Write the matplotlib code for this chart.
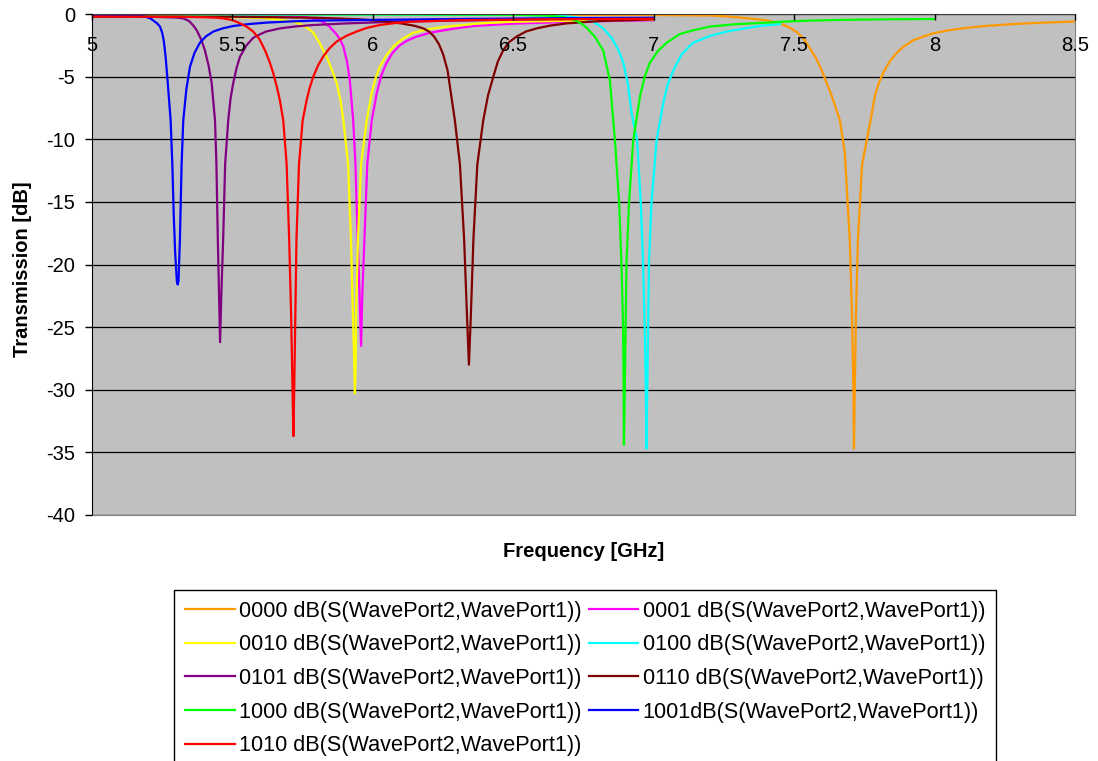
import matplotlib.pyplot as plt
import matplotlib as mpl

mpl.rcParams['font.family'] = ['Liberation Sans', 'DejaVu Sans']
mpl.rcParams['axes.unicode_minus'] = False

# Transmission curves for each switch state, frequency in GHz, level in dB
f_0000 = [5.0, 5.5, 6.0, 6.5, 7.0, 7.2, 7.26, 7.34, 7.40, 7.43, 7.46, 7.485, 7.51, 7.535, 7.555, 7.58, 7.60,
          7.635, 7.663, 7.68, 7.698, 7.706, 7.711, 7.713, 7.716, 7.72, 7.727, 7.742, 7.772, 7.787, 7.80,
          7.817, 7.84, 7.865, 7.89, 7.924, 7.96, 7.995, 8.05, 8.102, 8.18, 8.28, 8.38, 8.5]
db_0000 = [-0.05, -0.05, -0.05, -0.06, -0.08, -0.12, -0.19, -0.35, -0.5, -0.65, -0.85, -1.1, -1.45, -2.0, -2.7, -3.6, -4.6,
           -6.6, -8.5, -11.0, -18.0, -24.0, -30.0, -34.7, -30.0, -24.0, -18.0, -12.0, -8.5, -6.6, -5.6,
           -4.7, -3.8, -3.1, -2.6, -2.1, -1.8, -1.54, -1.3, -1.14, -0.96, -0.8, -0.7, -0.6]

f_0001 = [5.0, 5.5, 5.7, 5.76, 5.79, 5.82, 5.845, 5.87, 5.885, 5.895, 5.908, 5.918, 5.93, 5.938, 5.946,
          5.952, 5.958, 5.963, 5.97, 5.98, 5.996, 6.014, 6.03, 6.049, 6.07, 6.096, 6.12, 6.15, 6.203, 6.28,
          6.357, 6.5, 6.75, 7.0]
db_0001 = [-0.1, -0.12, -0.18, -0.25, -0.38, -0.6, -1.0, -1.6, -2.1, -2.6, -3.8, -5.3, -8.5, -12.0, -18.0,
           -22.0, -26.5, -22.0, -18.0, -12.0, -8.5, -6.3, -4.9, -3.9, -3.1, -2.5, -2.15, -1.85, -1.5, -1.2,
           -0.96, -0.77, -0.6, -0.5]

f_0010 = [5.0, 5.4, 5.6, 5.669, 5.717, 5.74, 5.76, 5.775, 5.788, 5.81, 5.835, 5.855, 5.871, 5.885, 5.895,
          5.912, 5.922, 5.929, 5.934, 5.936, 5.939, 5.94, 5.947, 5.958, 5.978, 5.996, 6.01, 6.025, 6.048,
          6.073, 6.105, 6.144, 6.2, 6.263, 6.381, 6.5, 6.75, 7.0]
db_0010 = [-0.15, -0.2, -0.3, -0.45, -0.62, -0.78, -1.0, -1.25, -1.5, -2.3, -3.4, -4.5, -5.5, -6.9, -8.5,
           -12.0, -18.0, -24.0, -28.0, -30.3, -28.0, -24.0, -18.0, -12.0, -8.5, -6.3, -5.1, -4.2, -3.3,
           -2.6, -2.0, -1.5, -1.2, -1.0, -0.75, -0.62, -0.52, -0.45]

f_0100 = [5.0, 5.5, 6.0, 6.5, 6.65, 6.72, 6.76, 6.785, 6.82, 6.85, 6.875, 6.892, 6.908, 6.921, 6.941,
          6.954, 6.962, 6.968, 6.972, 6.974, 6.977, 6.98, 6.983, 6.992, 7.01, 7.034, 7.05, 7.07, 7.10,
          7.14, 7.2, 7.26, 7.319, 7.38, 7.45]
db_0100 = [-0.04, -0.04, -0.05, -0.07, -0.12, -0.25, -0.4, -0.6, -1.15, -1.9, -2.9, -3.9, -5.6, -7.9, -10.1,
           -15.1, -19.9, -25.0, -30.0, -34.7, -30.0, -25.0, -19.9, -15.1, -10.1, -7.1, -5.6, -4.5, -3.2,
           -2.3, -1.75, -1.4, -1.17, -0.95, -0.8]

f_0101 = [5.0, 5.2, 5.3, 5.325, 5.345, 5.36, 5.373, 5.388, 5.402, 5.415, 5.426, 5.438, 5.443, 5.448,
          5.452, 5.456, 5.461, 5.467, 5.474, 5.485, 5.493, 5.503, 5.515, 5.527, 5.55, 5.574, 5.6, 5.62,
          5.669, 5.73, 5.787, 5.907, 6.1, 6.5, 7.0]
db_0101 = [-0.2, -0.22, -0.28, -0.35, -0.55, -0.9, -1.3, -2.0, -2.9, -4.1, -5.5, -8.5, -12.0, -18.0,
           -22.0, -26.2, -22.0, -18.0, -12.0, -8.5, -6.8, -5.5, -4.3, -3.4, -2.5, -1.9, -1.6, -1.4,
           -1.15, -0.98, -0.88, -0.75, -0.6, -0.45, -0.35]

f_0110 = [5.0, 5.5, 5.8, 5.95, 6.03, 6.1, 6.15, 6.18, 6.2, 6.218, 6.235, 6.25, 6.266, 6.279, 6.292, 6.31,
          6.325, 6.335, 6.342, 6.349, 6.358, 6.372, 6.393, 6.41, 6.429, 6.445, 6.464, 6.485, 6.512, 6.545,
          6.583, 6.63, 6.69, 6.809, 7.0]
db_0110 = [-0.18, -0.22, -0.3, -0.42, -0.55, -0.75, -0.95, -1.15, -1.4, -1.8, -2.4, -3.2, -4.5, -6.5, -8.5,
           -12.0, -18.0, -24.0, -28.0, -24.0, -18.0, -12.0, -8.5, -6.5, -5.0, -3.8, -2.9, -2.25, -1.8, -1.4,
           -1.15, -0.93, -0.75, -0.56, -0.43]

f_1000 = [5.0, 5.5, 6.0, 6.5, 6.62, 6.68, 6.705, 6.725, 6.745, 6.761, 6.79, 6.82, 6.844, 6.862, 6.877,
          6.885, 6.891, 6.893, 6.894, 6.897, 6.9, 6.903, 6.912, 6.927, 6.951, 6.968, 6.986, 7.015, 7.046,
          7.093, 7.141, 7.2, 7.29, 7.378, 7.47, 7.556, 7.65, 7.734, 7.85, 8.0]
db_1000 = [-0.02, -0.02, -0.03, -0.06, -0.12, -0.25, -0.38, -0.55, -0.8, -1.1, -1.8, -2.9, -5.3, -10.1, -15.1,
           -19.9, -25.0, -30.0, -34.4, -30.0, -25.0, -19.9, -15.1, -10.1, -6.6, -5.0, -3.9, -2.95, -2.3,
           -1.6, -1.3, -1.0, -0.82, -0.72, -0.6, -0.53, -0.48, -0.45, -0.42, -0.4]

f_1001 = [5.0, 5.1, 5.16, 5.18, 5.195, 5.21, 5.22, 5.232, 5.242, 5.25, 5.256, 5.262, 5.268, 5.28, 5.286,
          5.291, 5.296, 5.302, 5.305, 5.308, 5.313, 5.319, 5.325, 5.336, 5.349, 5.365, 5.384, 5.405,
          5.432, 5.465, 5.502, 5.56, 5.62, 5.7, 5.79, 5.965, 6.3, 6.7, 7.0]
db_1001 = [-0.08, -0.1, -0.14, -0.18, -0.25, -0.38, -0.55, -0.75, -1.0, -1.5, -2.2, -3.4, -5.0, -8.5, -12.0,
           -16.0, -19.0, -21.3, -21.6, -21.3, -18.0, -12.0, -8.5, -6.0, -4.2, -3.1, -2.3, -1.8,
           -1.4, -1.15, -0.96, -0.8, -0.69, -0.6, -0.53, -0.48, -0.4, -0.33, -0.3]

f_1010 = [5.0, 5.3, 5.4, 5.445, 5.467, 5.485, 5.5, 5.515, 5.527, 5.55, 5.574, 5.596, 5.616, 5.632, 5.645,
          5.658, 5.669, 5.681, 5.693, 5.702, 5.709, 5.714, 5.717, 5.72, 5.724, 5.728, 5.737, 5.75, 5.764,
          5.775, 5.788, 5.805, 5.823, 5.845, 5.871, 5.905, 5.942, 5.98, 6.025, 6.08, 6.143, 6.3, 6.6, 7.0]
db_1010 = [-0.2, -0.22, -0.26, -0.3, -0.35, -0.42, -0.5, -0.62, -0.75, -1.0, -1.4, -2.0, -2.9, -3.8, -4.7,
           -5.8, -6.9, -8.5, -12.0, -18.0, -24.0, -30.0, -33.7, -30.0, -24.0, -18.0, -12.0, -8.5, -6.9,
           -5.9, -5.0, -4.1, -3.4, -2.75, -2.2, -1.75, -1.4, -1.1, -0.88, -0.72, -0.61, -0.5, -0.42, -0.38]

states = ['0000', '0001', '0010', '0100', '0101', '0110', '1000', '1001', '1010']
freqs = [f_0000, f_0001, f_0010, f_0100, f_0101, f_0110, f_1000, f_1001, f_1010]
levels = [db_0000, db_0001, db_0010, db_0100, db_0101, db_0110, db_1000, db_1001, db_1010]
colors = ['#FF9900', '#FF00FF', '#FFFF00', '#00FFFF', '#800080', '#800000', '#00FF00', '#0000FF', '#FF0000']
labels = [s + ' dB(S(WavePort2,WavePort1))' for s in states]
labels[7] = '1001dB(S(WavePort2,WavePort1))'

yticks = [0, -5, -10, -15, -20, -25, -30, -35, -40]
xticks = [5, 5.5, 6, 6.5, 7, 7.5, 8, 8.5]

fig = plt.figure(figsize=(10.98, 7.61), dpi=100)
ax = fig.add_axes([92 / 1098, 1 - 515 / 761, 983 / 1098, 501 / 761])
ax.set_facecolor('#C0C0C0')
ax.set_axisbelow(False)

for y in yticks:
    ax.axhline(y, color='black', linewidth=0.9, zorder=1)

handles = []
for f, db, c, lab in zip(freqs, levels, colors, labels):
    h, = ax.plot(f, db, color=c, linewidth=1.6, label=lab, zorder=2)
    handles.append(h)

ax.set_xlim(5, 8.5)
ax.set_ylim(-40, 0)
ax.set_yticks(yticks)
ax.set_yticklabels([str(v) for v in yticks])
ax.set_xticks(xticks)
ax.set_xticklabels(['5', '5.5', '6', '6.5', '7', '7.5', '8', '8.5'])

# x axis sits at 0 dB (top), labels hang below it inside the plot
ax.tick_params(axis='x', top=True, bottom=False, labeltop=True, labelbottom=False,
               direction='in', length=4, width=1, pad=-29.5, labelsize=14.5)
ax.tick_params(axis='y', direction='out', length=5, width=1, pad=7, labelsize=14.5)

ax.spines['left'].set_color('black')
ax.spines['top'].set_color('#404040')
ax.spines['right'].set_color('#808080')
ax.spines['bottom'].set_color('#808080')

ax.set_xlabel('Frequency [GHz]', fontsize=14.5, fontweight='bold')
ax.set_ylabel('Transmission [dB]', fontsize=14.5, fontweight='bold')
ax.xaxis.set_label_coords(0.5, -0.054)
ax.yaxis.set_label_coords(-0.061, 0.49)

# legend filled row by row, two columns
order = [0, 2, 4, 6, 8, 1, 3, 5, 7]
leg = fig.legend([handles[i] for i in order], [labels[i] for i in order],
                 loc='upper center', bbox_to_anchor=(585 / 1098, 1 - 590 / 761),
                 borderaxespad=0, ncol=2, fontsize=15.6, frameon=True, fancybox=False,
                 framealpha=1, edgecolor='black', borderpad=0.5, labelspacing=0.58,
                 handlelength=2.3, handletextpad=0.2, columnspacing=0.32)
leg.get_frame().set_linewidth(1)

plt.savefig('out.png', dpi=100)
